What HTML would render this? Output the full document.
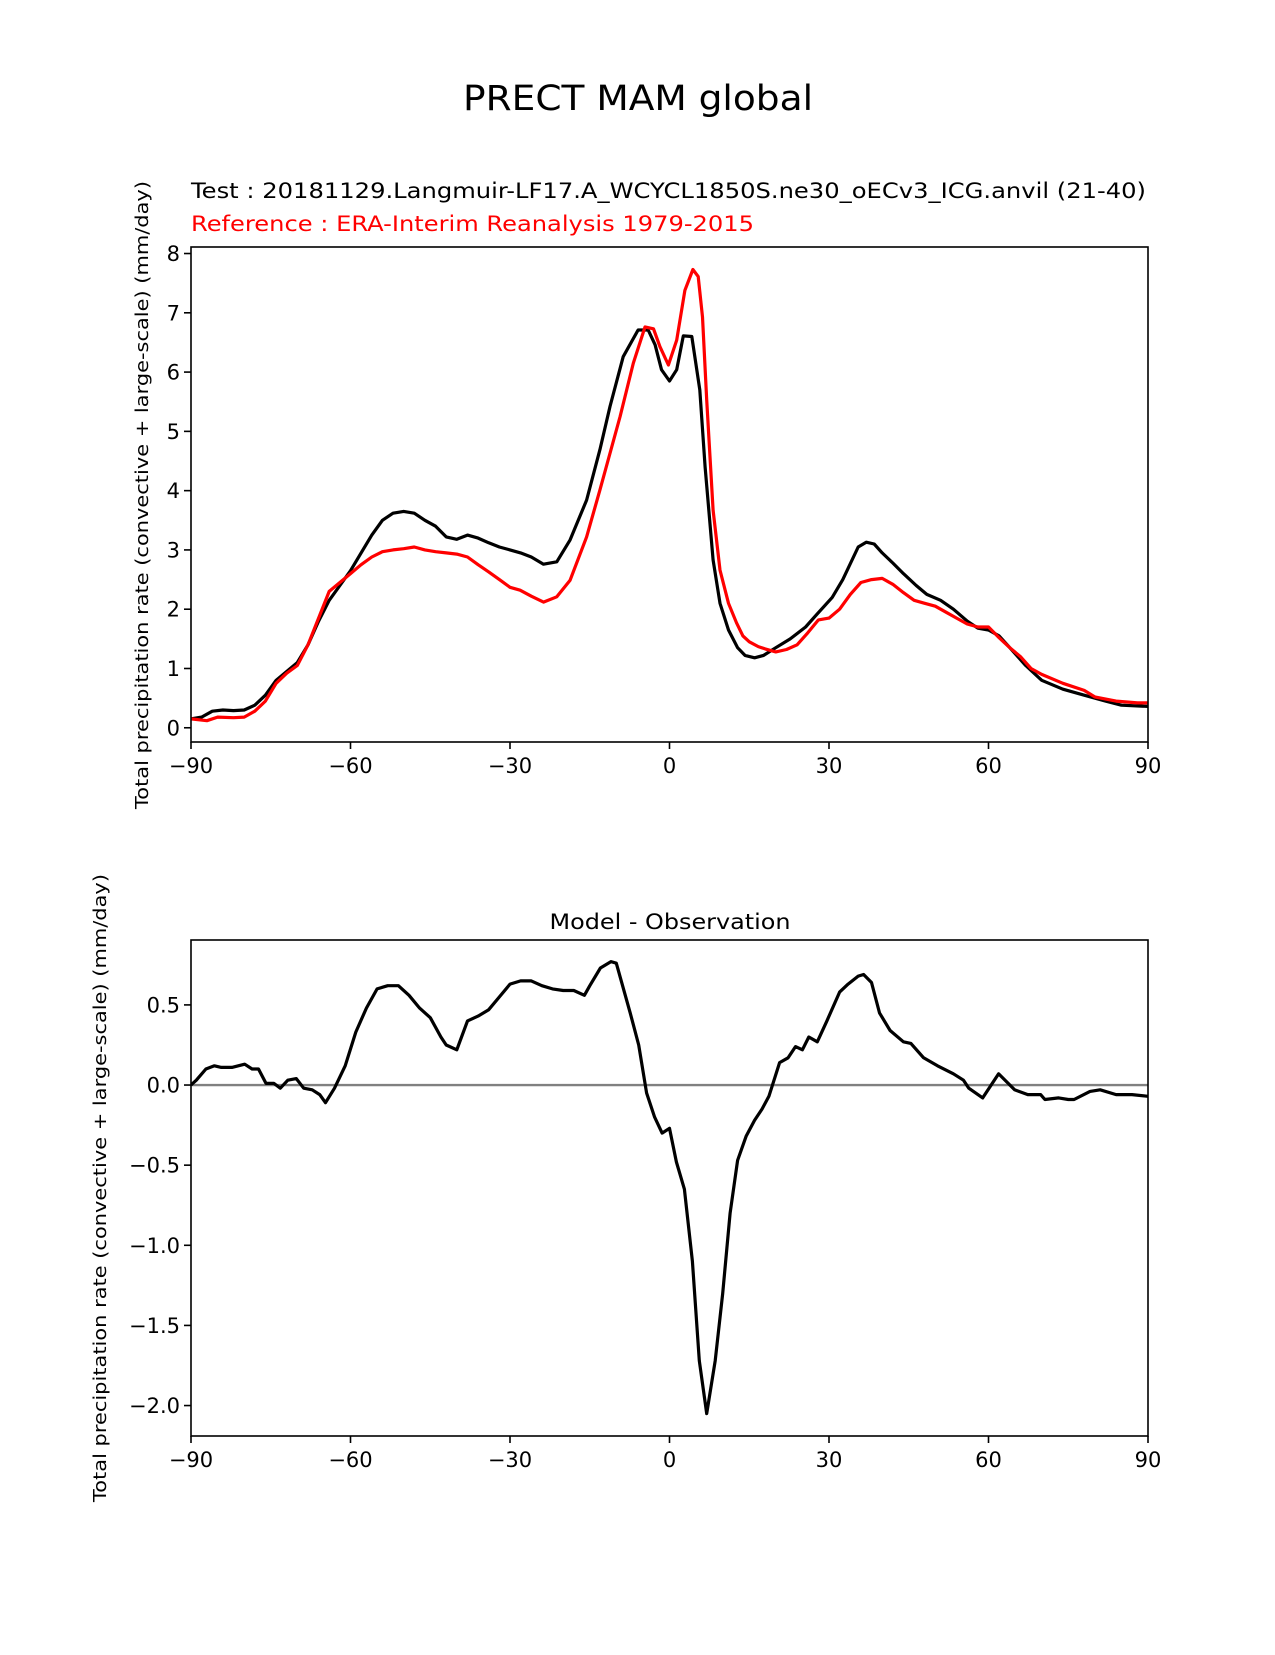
<!DOCTYPE html>
<html><head><meta charset="utf-8"><style>
html,body{margin:0;padding:0;background:#fff;}
svg text{font-family:"DejaVu Sans","Liberation Sans",sans-serif;}
</style></head><body>
<svg id="fig" width="1275" height="1650" viewBox="0 0 1275 1650" xmlns="http://www.w3.org/2000/svg">
<rect width="1275" height="1650" fill="#fff"/>
<text x="638" y="110" font-size="35" text-anchor="middle" textLength="350" lengthAdjust="spacingAndGlyphs">PRECT MAM global</text>
<text x="191" y="198" font-size="21" textLength="955" lengthAdjust="spacingAndGlyphs">Test : 20181129.Langmuir-LF17.A_WCYCL1850S.ne30_oECv3_ICG.anvil (21-40)</text>
<text x="191" y="231" font-size="21" fill="#ff0000" textLength="563" lengthAdjust="spacingAndGlyphs">Reference : ERA-Interim Reanalysis 1979-2015</text>
<text x="670" y="929" font-size="21" text-anchor="middle" textLength="241" lengthAdjust="spacingAndGlyphs">Model - Observation</text>
<text transform="translate(148,495) rotate(-90)" font-size="18" text-anchor="middle" textLength="628" lengthAdjust="spacingAndGlyphs">Total precipitation rate (convective + large-scale) (mm/day)</text>
<text transform="translate(106,1188) rotate(-90)" font-size="18" text-anchor="middle" textLength="628" lengthAdjust="spacingAndGlyphs">Total precipitation rate (convective + large-scale) (mm/day)</text>
<g id="top"></g>
<g id="bot"></g>
</svg>
<script>
const xTicks = [-90,-60,-30,0,30,60,90];
const xTickLabels = ["\u221290","\u221260","\u221230","0","30","60","90"];
const topYTicks = [0,1,2,3,4,5,6,7,8];
const topYTickLabels = ["0","1","2","3","4","5","6","7","8"];
const botYTicks = [0.5,0,-0.5,-1,-1.5,-2];
const botYTickLabels = ["0.5","0.0","\u22120.5","\u22121.0","\u22121.5","\u22122.0"];

const testLat = [-90,-88,-86,-84,-82,-80,-78,-76,-74,-72,-70,-68,-66,-64,-62,-60,-58,-56,-54,-52,-50,-48,-46,-44,-42,-40,-38,-36,-34,-32,-30,-28,-26,-23.7,-21.2,-18.7,-15.6,-13.1,-11.2,-8.7,-5.9,-4.0,-2.7,-1.5,0,1.35,2.6,4.2,5.7,6.7,8.2,9.5,11.1,12.8,14.2,16,17.7,20,22.7,25.6,27.6,30.6,32.6,35.5,37,38.5,40,42,44,46.4,48.4,51,53.4,56,58,60,62,64,67,70,74,78,82,85,90];
const testVal = [0.15,0.18,0.28,0.3,0.29,0.3,0.38,0.55,0.8,0.95,1.1,1.4,1.8,2.15,2.4,2.65,2.95,3.25,3.5,3.62,3.65,3.62,3.5,3.4,3.22,3.18,3.25,3.2,3.12,3.05,3.0,2.95,2.88,2.76,2.8,3.17,3.84,4.69,5.42,6.26,6.71,6.71,6.46,6.04,5.85,6.04,6.61,6.6,5.7,4.4,2.83,2.1,1.65,1.35,1.22,1.18,1.22,1.35,1.5,1.7,1.9,2.2,2.5,3.05,3.13,3.1,2.95,2.78,2.6,2.4,2.25,2.15,2.0,1.8,1.68,1.65,1.55,1.35,1.05,0.8,0.65,0.55,0.45,0.38,0.36];

const refLat = [-90,-87,-85,-82,-80,-78,-76,-74,-72,-70,-68,-66,-64,-62,-60,-58,-56,-54,-52,-50,-48,-46,-44,-42,-40,-38,-36,-34,-32,-30,-28.1,-26,-23.7,-21.2,-18.7,-15.6,-13.1,-9.3,-6.8,-4.6,-3.0,-1.8,-0.2,1.35,2.9,4.4,5.4,6.2,7.0,8.2,9.5,11.1,12.6,13.8,15,16.7,18,20,22,24,26,28,30,32,34,36,38,40,42,44,46,48,50,52,54,56,58,60,62,64,66,68,70,74,78,80,84,88,90];
const refVal = [0.15,0.12,0.18,0.17,0.18,0.28,0.45,0.75,0.92,1.05,1.4,1.85,2.3,2.45,2.6,2.75,2.88,2.97,3.0,3.02,3.05,3.0,2.97,2.95,2.93,2.88,2.75,2.63,2.5,2.37,2.32,2.22,2.12,2.21,2.49,3.22,4.01,5.25,6.15,6.76,6.73,6.43,6.12,6.54,7.38,7.73,7.61,6.93,5.53,3.67,2.66,2.1,1.77,1.55,1.45,1.37,1.33,1.28,1.32,1.4,1.6,1.82,1.85,2.0,2.25,2.45,2.5,2.52,2.42,2.28,2.15,2.1,2.05,1.95,1.85,1.75,1.7,1.7,1.52,1.35,1.2,1.0,0.9,0.75,0.63,0.52,0.45,0.42,0.42];

const diffLat = [-90,-89,-87.2,-85.6,-84.3,-82.3,-79.9,-78.5,-77.3,-75.9,-74.4,-73.2,-71.8,-70.2,-68.8,-67.2,-65.8,-64.7,-63,-61,-59,-57,-55,-53,-51,-49,-47,-45,-43,-42,-40,-38,-36,-34,-32,-30,-28,-26,-24,-22,-20,-18,-16,-15,-13,-11,-10,-7.4,-5.8,-4.3,-2.8,-1.4,0,1.3,2.8,4.3,5.6,7,8.6,10,11.4,12.8,14.4,16,17.4,18.7,20.7,22.3,23.7,25,26.2,27.8,29.6,32,33.6,35.5,36.5,38,39.5,41.5,44,45.4,47.8,50.4,53.4,55.3,56.3,58.9,61.9,64.9,67.4,69.8,70.6,73.2,75,76.1,79.1,81,84,87,90];
const diffVal = [0.0,0.03,0.1,0.12,0.11,0.11,0.13,0.1,0.1,0.01,0.01,-0.02,0.03,0.04,-0.02,-0.03,-0.06,-0.11,-0.02,0.12,0.33,0.48,0.6,0.62,0.62,0.56,0.48,0.42,0.3,0.25,0.22,0.4,0.43,0.47,0.55,0.63,0.65,0.65,0.62,0.6,0.59,0.59,0.56,0.62,0.73,0.77,0.76,0.45,0.25,-0.05,-0.2,-0.3,-0.27,-0.48,-0.65,-1.1,-1.72,-2.05,-1.72,-1.3,-0.8,-0.47,-0.32,-0.22,-0.15,-0.07,0.14,0.17,0.24,0.22,0.3,0.27,0.4,0.58,0.63,0.68,0.69,0.64,0.45,0.34,0.27,0.26,0.17,0.12,0.07,0.03,-0.02,-0.08,0.07,-0.03,-0.06,-0.06,-0.09,-0.08,-0.09,-0.09,-0.04,-0.03,-0.06,-0.06,-0.07];

const NS="http://www.w3.org/2000/svg";
const L=191, R=1148;
const xs = v => L + (v+90)/180*(R-L);
function mk(tag, attrs, parent){const e=document.createElementNS(NS,tag);for(const k in attrs)e.setAttribute(k,attrs[k]);parent.appendChild(e);return e;}

function panel(g, top, bottom, ymin, ymax, yTicks, yLabels, prefix){
  const ys = v => bottom - (v-ymin)/(ymax-ymin)*(bottom-top);
  const clipId = prefix+'-clip';
  const cp = mk('clipPath',{id:clipId},g);
  mk('rect',{x:L,y:top,width:R-L,height:bottom-top},cp);
  xTicks.forEach((t,i)=>{
    const tk = mk('line',{x1:xs(t),x2:xs(t),y1:bottom,y2:bottom+7,stroke:'#000','stroke-width':1.6},g);
    
    
    const tl = mk('text',{x:xs(t),y:bottom+31,'font-size':21,'text-anchor':'middle'},g);
    tl.textContent = xTickLabels[i];
    
    
  });
  yTicks.forEach((t,i)=>{
    const tk = mk('line',{x1:L-7,x2:L,y1:ys(t),y2:ys(t),stroke:'#000','stroke-width':1.6},g);
    
    
    const tl = mk('text',{x:L-11,y:ys(t)+7.5,'font-size':21,'text-anchor':'end'},g);
    tl.textContent = yLabels[i];
    
    
  });
  return {ys, clipId};
}
function line(g, lat, val, xs, ys, color, clipId, name){
  const d = lat.map((la,i)=>(i?'L':'M')+xs(la).toFixed(1)+','+ys(val[i]).toFixed(1)).join(' ');
  const p = mk('path',{d:d,fill:'none',stroke:color,'stroke-width':3.2,'stroke-linejoin':'round','clip-path':'url(#'+clipId+')'},g);
  
  
}
function frame(g, top, bottom, prefix){
  const f = mk('rect',{x:L,y:top,width:R-L,height:bottom-top,fill:'none',stroke:'#000','stroke-width':1.6},g);
  
  
}

const gt = document.getElementById('top');
const tp = panel(gt, 247, 742, -0.24, 8.11, topYTicks, topYTickLabels, 'top');
line(gt, testLat, testVal, xs, tp.ys, '#000', tp.clipId, 'test-line');
line(gt, refLat, refVal, xs, tp.ys, '#ff0000', tp.clipId, 'reference-line');
frame(gt, 247, 742, 'top');

const gb = document.getElementById('bot');
const bp = panel(gb, 940, 1436, -2.19, 0.905, botYTicks, botYTickLabels, 'bottom');
const z = mk('line',{x1:L,x2:R,y1:bp.ys(0),y2:bp.ys(0),stroke:'#808080','stroke-width':2.4},gb);


line(gb, diffLat, diffVal, xs, bp.ys, '#000', bp.clipId, 'difference-line');
frame(gb, 940, 1436, 'bottom');
</script>
</body></html>
